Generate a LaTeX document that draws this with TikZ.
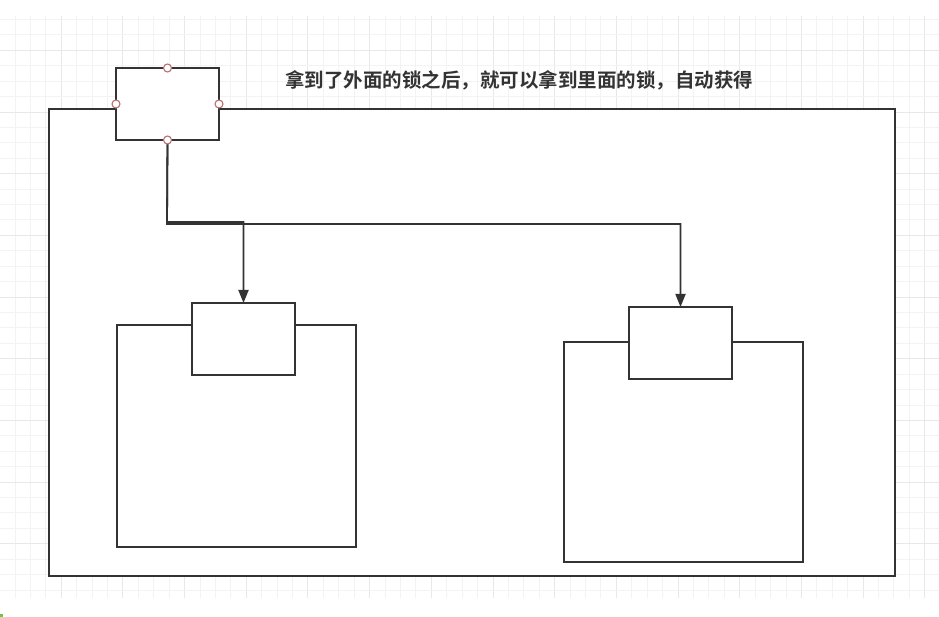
\documentclass[tikz,border=0pt]{standalone}
\usepackage{fontspec}
\newfontfamily\cjk{Noto Sans CJK SC}[BoldFont={Noto Sans CJK SC Bold}]
\usetikzlibrary{arrows.meta}
\definecolor{ink}{RGB}{51,51,51}
\definecolor{gridminor}{RGB}{243,243,243}
\definecolor{gridmajor}{RGB}{232,232,232}
\definecolor{portred}{RGB}{184,112,112}
\definecolor{greenmark}{RGB}{110,200,60}
\tikzset{
  box/.style={draw=ink, line width=1.8pt, fill=white, inner sep=0pt, outer sep=0pt},
  port/.style={circle, draw=portred, line width=1.1pt, fill=white, minimum size=8pt, inner sep=0pt},
  conn/.style={draw=ink, line width=1.8pt, -{Triangle[length=13pt,width=10pt]}},
  caption/.style={font=\cjk\bfseries\fontsize{19.5pt}{22pt}\selectfont, text=ink, inner sep=0pt}
}
\begin{document}
\begin{tikzpicture}[x=1pt,y=-1pt]
\useasboundingbox (0,0) rectangle (939,617);
\fill[white] (0,0) rectangle (939,617);
% background grid
\foreach \i in {0,...,60} {
  \pgfmathsetmacro{\gx}{15+15.42*\i}
  \pgfmathtruncatemacro{\m}{mod(\i,4)}
  \ifnum\m=3
    \draw[gridmajor, line width=1pt] (\gx,16) -- (\gx,598);
  \else
    \draw[gridminor, line width=1pt] (\gx,16) -- (\gx,598);
  \fi
}
\foreach \j in {0,...,37} {
  \pgfmathsetmacro{\gy}{19.5+15.42*\j}
  \pgfmathtruncatemacro{\m}{mod(\j,4)}
  \ifnum\m=2
    \draw[gridmajor, line width=1pt] (0,\gy) -- (939,\gy);
  \else
    \draw[gridminor, line width=1pt] (0,\gy) -- (939,\gy);
  \fi
}
\fill[greenmark] (0,614) rectangle (3,617);
% outer container
\node[box, minimum width=846pt, minimum height=467pt, anchor=north west] (outer) at (49,109) {};
% top lock
\node[box, minimum width=103pt, minimum height=72pt, anchor=north west] (lock) at (116,68) {};
% left inner
\node[box, minimum width=239pt, minimum height=222pt, anchor=north west] (lbody) at (117,325) {};
\node[box, minimum width=103pt, minimum height=72pt, anchor=north west] (llock) at (192,303) {};
% right inner
\node[box, minimum width=239pt, minimum height=220pt, anchor=north west] (rbody) at (564,342) {};
\node[box, minimum width=103pt, minimum height=72pt, anchor=north west] (rlock) at (629,307) {};
% connectors
\coordinate (jl) at (167,222);
\coordinate (jr) at (167,224);
\draw[conn] (lock.south) -- (jr) -| (rlock.north);
\draw[conn] (lock.south) -- (jl) -| (llock.north);
% ports
\node[port] (pn) at (lock.north) {};
\node[port] (pw) at (lock.west) {};
\node[port] (pe) at (lock.east) {};
\node[port] (ps) at (lock.south) {};
% caption
\node[caption, anchor=west] (cap) at (285,80) {拿到了外面的锁之后，就可以拿到里面的锁，自动获得};
\end{tikzpicture}
\end{document}
